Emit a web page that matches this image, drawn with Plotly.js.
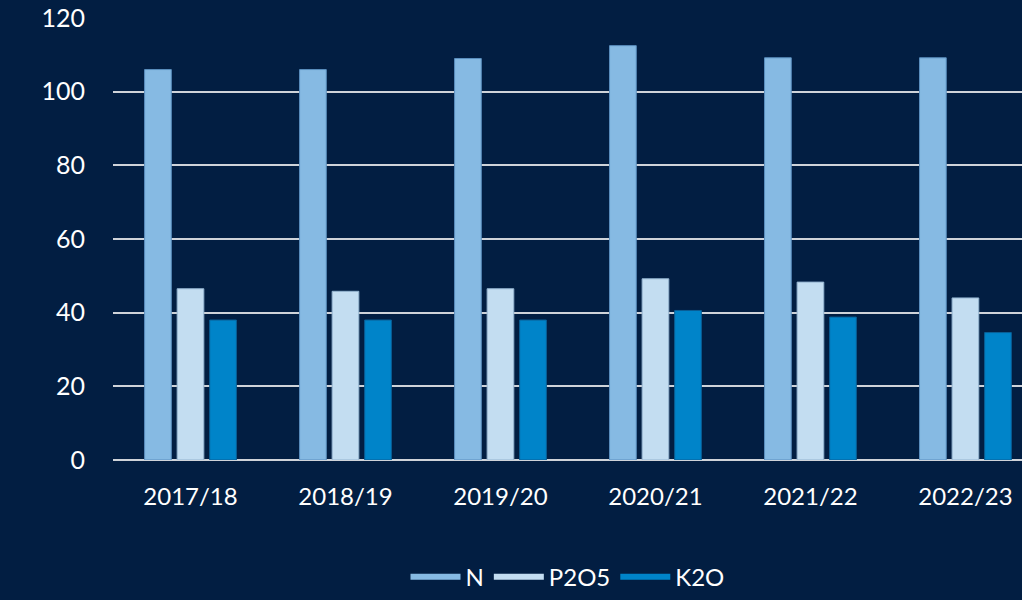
<!DOCTYPE html>
<html><head><meta charset="utf-8">
<script src="https://cdn.plot.ly/plotly-3.0.1.min.js"></script>
<style>html,body{margin:0;padding:0;background:#021e42;}#chart{width:1022px;height:600px;}</style>
</head><body><div id="chart"></div>
<script>
const categories = ["2017/18","2018/19","2019/20","2020/21","2021/22","2022/23"];
const nValues = [106, 106, 109, 112.5, 109.2, 109.2];
const p2o5Values = [46.5, 45.8, 46.5, 49.2, 48.3, 44.0];
const k2oValues = [38.0, 38.0, 38.0, 40.6, 38.8, 34.6];
const seriesNames = ["N","P2O5","K2O"];
const colors = ["#86bae3","#c3ddf1","#0084c9"];
const outlines = ["#5b8fbf","#93b3cf","#0a5f96"];
const series = [nValues, p2o5Values, k2oValues];

const bg = "#021e42";
const font = "Lato, 'Open Sans', sans-serif";

const traces = series.map((vals, i) => ({
  type: "bar", x: categories, y: vals, name: seriesNames[i],
  marker: {color: colors[i], line: {color: outlines[i], width: 1}},
  showlegend: false, hoverinfo: "x+y+name"
}));
series.forEach((vals, i) => traces.push({
  type: "scatter", mode: "lines", x: [null], y: [null], name: seriesNames[i],
  line: {color: colors[i], width: 6}, showlegend: true, hoverinfo: "skip"
}));

const layout = {
  width: 1022, height: 600,
  paper_bgcolor: bg, plot_bgcolor: bg,
  margin: {l: 113, r: 0, t: 18, b: 140},
  font: {family: font, color: "#ffffff", size: 24},
  barmode: "group", bargap: 0.37, bargroupgap: 0.18,
  xaxis: {
    type: "category", range: [-0.5, 5.365],
    showgrid: false, zeroline: false, showline: false,
    ticks: "outside", ticklen: 15, tickcolor: "rgba(0,0,0,0)",
    tickfont: {family: font, size: 24, color: "#ffffff"}
  },
  yaxis: {
    range: [0, 120], dtick: 20, tick0: 0,
    showgrid: true, gridcolor: "#cfd3d9", gridwidth: 2,
    zeroline: true, zerolinecolor: "#cfd3d9", zerolinewidth: 2,
    showline: false,
    ticks: "outside", ticklen: 22, tickcolor: "rgba(0,0,0,0)",
    tickfont: {family: font, size: 25, color: "#ffffff"}
  },
  legend: {
    orientation: "h", x: 0.5, xanchor: "center", y: -0.265, yanchor: "middle",
    font: {family: font, size: 24, color: "#ffffff"},
    bgcolor: "rgba(0,0,0,0)", itemwidth: 50
  },
  showlegend: true
};
Plotly.newPlot("chart", traces, layout, {staticPlot: true});
</script></body></html>
